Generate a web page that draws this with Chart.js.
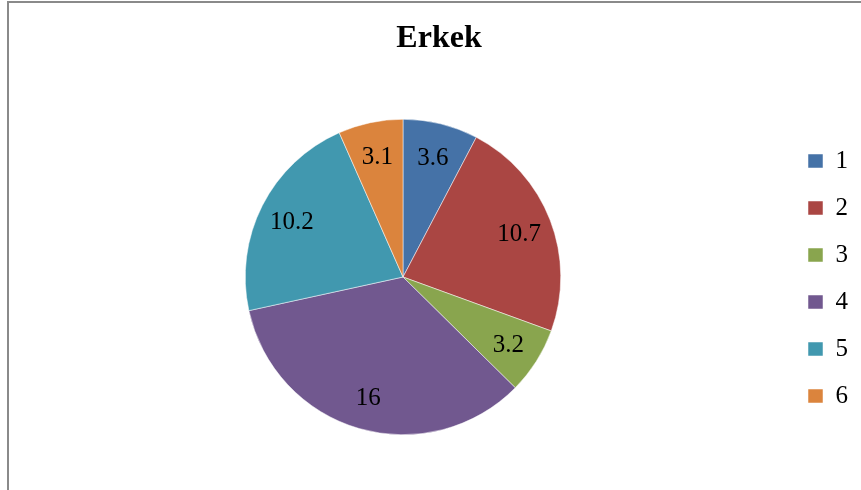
<!DOCTYPE html>
<html>
<head>
<meta charset="utf-8">
<script src="https://cdn.jsdelivr.net/npm/chart.js@4.4.0/dist/chart.umd.min.js"></script>
<style>
  html, body { margin: 0; padding: 0; background: #fff; }
  #wrap { position: relative; width: 861px; height: 490px; overflow: hidden; }
  #frame { position: absolute; left: 7px; top: 1px; width: 900px; height: 600px;
           border-left: 2px solid #8a8a8a; border-top: 2px solid #8a8a8a; box-sizing: border-box; }
  canvas { position: absolute; left: 0; top: 0; }
</style>
</head>
<body>
<div id="wrap">
  <div id="frame"></div>
  <canvas id="c" width="861" height="490"></canvas>
</div>
<script>
const chartTitle = "Erkek";
const categories = ["1", "2", "3", "4", "5", "6"];
const values = [3.6, 10.7, 3.2, 16, 10.2, 3.1];
const colors = ["#4572A7", "#AA4643", "#89A54E", "#71588F", "#4198AF", "#DB843D"];

const serif = "'Liberation Serif', 'Times New Roman', serif";

const dataLabels = {
  id: 'dataLabels',
  afterDatasetsDraw(chart) {
    const ctx = chart.ctx;
    const meta = chart.getDatasetMeta(0);
    ctx.save();
    ctx.font = "25px " + serif;
    ctx.fillStyle = "#000";
    ctx.textAlign = "center";
    ctx.textBaseline = "middle";
    meta.data.forEach((arc, i) => {
      const p = arc.getProps(['x', 'y', 'startAngle', 'endAngle', 'outerRadius'], true);
      const mid = (p.startAngle + p.endAngle) / 2;
      const r = p.outerRadius * 0.79;
      ctx.fillText(String(chart.data.datasets[0].data[i]), p.x + Math.cos(mid) * r, p.y + Math.sin(mid) * r + 2);
    });
    ctx.restore();
  }
};

new Chart(document.getElementById('c'), {
  type: 'pie',
  data: {
    labels: categories,
    datasets: [{
      data: values,
      backgroundColor: colors,
      borderColor: "#ffffff",
      borderWidth: 0.5
    }]
  },
  options: {
    responsive: false,
    animation: false,
    layout: { padding: { left: 20, right: 3, top: 0, bottom: 55 } },
    plugins: {
      title: {
        display: true,
        text: chartTitle,
        color: "#000",
        font: { family: serif, size: 32, weight: 'bold', lineHeight: 1.2 },
        padding: { top: 20, bottom: 60.6 }
      },
      legend: {
        position: 'right',
        title: {
          display: true,
          text: ' ',
          font: { size: 10, lineHeight: 1 },
          padding: { top: 0, bottom: 112 }
        },
        labels: {
          boxWidth: 15,
          boxHeight: 14,
          padding: 22,
          color: "#000",
          font: { family: serif, size: 25 }
        }
      },
      tooltip: { enabled: false }
    }
  },
  plugins: [dataLabels]
});
</script>
</body>
</html>
